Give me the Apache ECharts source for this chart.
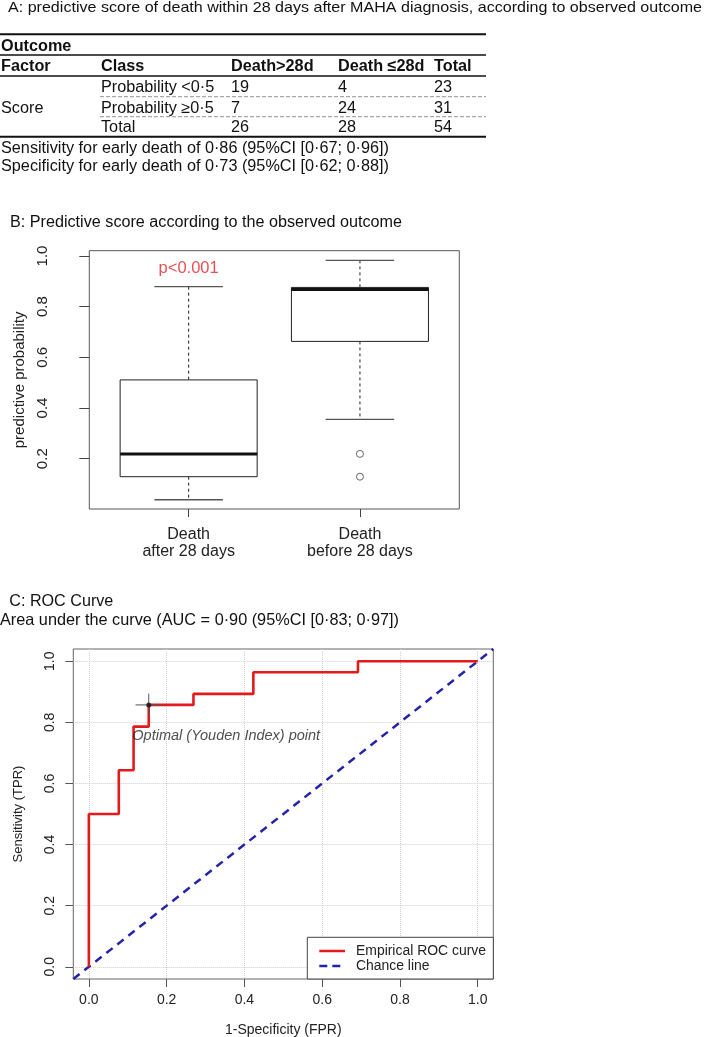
<!DOCTYPE html>
<html><head><meta charset="utf-8">
<script src="https://cdn.jsdelivr.net/npm/echarts@6/dist/echarts.min.js"></script>
<style>html,body{margin:0;padding:0;background:#fff}#c{width:709px;height:1037px}</style>
</head><body><div id="c"></div>
<script>
// ===== Data =====
const titleA = 'A: predictive score of death within 28 days after MAHA diagnosis, according to observed outcome';
const tableGroupLabel = 'Outcome';
const tableHeader = ['Factor', 'Class', 'Death>28d', 'Death \u226428d', 'Total'];
const tableFactor = 'Score';
const tableClasses = ['Probability <0\u00b75', 'Probability \u22650\u00b75', 'Total'];
const deathAfter28 = [19, 7, 26];
const deathWithin28 = [4, 24, 28];
const rowTotals = [23, 31, 54];
const sensitivityText = 'Sensitivity for early death of 0\u00b786 (95%CI [0\u00b767; 0\u00b796])';
const specificityText = 'Specificity for early death of 0\u00b773 (95%CI [0\u00b762; 0\u00b788])';

const titleB = 'B: Predictive score according to the observed outcome';
const boxGroups = ['Death\nafter 28 days', 'Death\nbefore 28 days'];
const boxLower  = [0.038, 0.355];
const boxQ1     = [0.129, 0.663];
const boxMedian = [0.219, 0.868];
const boxQ3     = [0.511, 0.876];
const boxUpper  = [0.879, 0.983];
const outliersGroup2 = [0.219, 0.129];
const boxTicks = [0.2, 0.4, 0.6, 0.8, 1.0];
const pValueText = 'p<0.001';

const titleC = 'C: ROC Curve';
const aucText = 'Area under the curve (AUC = 0\u00b790 (95%CI [0\u00b783; 0\u00b797])';
const rocFPR = [0, 0.077, 0.115, 0.154, 0.269, 0.423, 0.692, 1.0];
const rocTPR = [0.5, 0.643, 0.786, 0.857, 0.893, 0.964, 1.0];
const optimalPoint = [0.154, 0.857];
const optimalFprRange = [0.120, 0.188];
const optimalTprRange = [0.824, 0.894];
const chanceLine = [-0.04, 1.04];
const rocTicks = [0, 0.2, 0.4, 0.6, 0.8, 1.0];

// ===== Helpers =====
const FONT = '"Liberation Sans", Arial, sans-serif';
const mctx = document.createElement('canvas').getContext('2d');
function measure(t, size, weight, style) {
  mctx.font = (style || 'normal') + ' ' + (weight || 'normal') + ' ' + size + 'px ' + FONT;
  return mctx.measureText(t).width;
}
function txt(t, x, y, o) {
  o = o || {};
  const size = o.size || 16;
  const sx = o.w ? o.w / measure(t, size, o.weight, o.style) : (o.sx || 1);
  return { type: 'text', x: x, y: y, scaleX: sx, z: 20,
    style: { text: String(t), fontSize: size, fontFamily: FONT, fontWeight: o.weight || 'normal',
      fontStyle: o.style || 'normal', fill: o.color || '#111', align: o.align || 'left', verticalAlign: 'middle' } };
}
function hline(x1, x2, y, w, color, dash) {
  return { type: 'line', z: 20, shape: { x1: x1, y1: y, x2: x2, y2: y },
    style: { stroke: color || '#111', lineWidth: w || 1, lineDash: dash || null } };
}

// ===== Section A (table) =====
const tblSize = 16;
const tblScale = 388 / measure(sensitivityText, tblSize);
const colX = [1, 101, 231, 338, 434];
const rowY = [87.7, 108.3, 127.7];
const gA = [];
gA.push(txt(titleA, 8, 8, { size: 15, w: 694 }));
gA.push(hline(0, 486, 34.3, 2));
gA.push(txt(tableGroupLabel, 1, 46.7, { size: tblSize, weight: 'bold', sx: tblScale }));
gA.push(hline(0, 486, 55, 1.6));
tableHeader.forEach((h, i) => gA.push(txt(h, colX[i], 66.7, { size: tblSize, weight: 'bold', sx: tblScale })));
gA.push(hline(0, 486, 76, 1.6));
tableClasses.forEach((c, i) => {
  gA.push(txt(c, colX[1], rowY[i], { size: tblSize, sx: tblScale }));
  gA.push(txt(deathAfter28[i], colX[2], rowY[i], { size: tblSize, sx: tblScale }));
  gA.push(txt(deathWithin28[i], colX[3], rowY[i], { size: tblSize, sx: tblScale }));
  gA.push(txt(rowTotals[i], colX[4], rowY[i], { size: tblSize, sx: tblScale }));
});
gA.push(txt(tableFactor, 1, rowY[1], { size: tblSize, sx: tblScale }));
gA.push(hline(100, 486, 96.7, 1.3, '#a8a8a8', [4, 2]));
gA.push(hline(100, 486, 116.7, 1.3, '#a8a8a8', [4, 2]));
gA.push(hline(0, 486, 136.7, 2));
gA.push(txt(sensitivityText, 1, 148.3, { size: tblSize, sx: tblScale }));
gA.push(txt(specificityText, 1, 166.7, { size: tblSize, sx: tblScale }));

// ===== Section B / C titles =====
gA.push(txt(titleB, 10, 222.7, { size: 16, w: 392 }));
gA.push(txt(titleC, 9.3, 601.7, { size: 16, w: 104 }));
gA.push(txt(aucText, 0, 620, { size: 16.5, w: 399 }));

// ===== ROC legend =====
gA.push({ type: 'rect', z: 30, shape: { x: 307.3, y: 937.3, width: 186, height: 41.7 },
  style: { fill: '#fff', stroke: '#444', lineWidth: 1 } });
gA.push({ type: 'line', z: 31, shape: { x1: 319.3, y1: 951, x2: 345, y2: 951 }, style: { stroke: '#e3191c', lineWidth: 2.5 } });
gA.push({ type: 'line', z: 31, shape: { x1: 319.3, y1: 966, x2: 345, y2: 966 }, style: { stroke: '#2424a8', lineWidth: 2.5, lineDash: [8, 5] } });
const lg1 = txt('Empirical ROC curve', 356, 951.5, { size: 14, w: 130, color: '#222' }); lg1.z = 31;
const lg2 = txt('Chance line', 356, 966.5, { size: 14, sx: lg1.scaleX, color: '#222' }); lg2.z = 31;
gA.push(lg1, lg2);

// ===== Box plot data =====
const boxData = boxLower.map((v, i) => [i + 1, boxLower[i], boxQ1[i], boxMedian[i], boxQ3[i], boxUpper[i]]);
function renderBox(params, api) {
  const x = api.value(0);
  const lo = api.value(1), q1 = api.value(2), md = api.value(3), q3 = api.value(4), hi = api.value(5);
  const hw = 0.4, cw = 0.2;
  const P = (a, b) => api.coord([a, b]);
  const tl = P(x - hw, q3), br = P(x + hw, q1);
  const m1 = P(x - hw, md), m2 = P(x + hw, md);
  const wTop1 = P(x, hi), wTop2 = P(x, q3), wBot1 = P(x, q1), wBot2 = P(x, lo);
  const cT1 = P(x - cw, hi), cT2 = P(x + cw, hi), cB1 = P(x - cw, lo), cB2 = P(x + cw, lo);
  const dash = { stroke: '#222', lineWidth: 1, lineDash: [3, 3] };
  const cap = { stroke: '#555', lineWidth: 1.3 };
  return { type: 'group', children: [
    { type: 'line', shape: { x1: wTop1[0], y1: wTop1[1], x2: wTop2[0], y2: wTop2[1] }, style: dash },
    { type: 'line', shape: { x1: wBot1[0], y1: wBot1[1], x2: wBot2[0], y2: wBot2[1] }, style: dash },
    { type: 'line', shape: { x1: cT1[0], y1: cT1[1], x2: cT2[0], y2: cT2[1] }, style: cap },
    { type: 'line', shape: { x1: cB1[0], y1: cB1[1], x2: cB2[0], y2: cB2[1] }, style: cap },
    { type: 'rect', shape: { x: tl[0], y: tl[1], width: br[0] - tl[0], height: br[1] - tl[1] },
      style: { fill: '#fff', stroke: '#222', lineWidth: 1 } },
    { type: 'line', shape: { x1: m1[0], y1: m1[1], x2: m2[0], y2: m2[1] }, style: { stroke: '#111', lineWidth: 3 } }
  ] };
}

// ===== ROC path =====
const rocPts = [[rocFPR[0], 0]];
rocTPR.forEach((t, i) => { rocPts.push([rocFPR[i], t]); rocPts.push([rocFPR[i + 1], t]); });

const chart = echarts.init(document.getElementById('c'), null, { renderer: 'canvas' });
const axisFontColor = '#222';
chart.setOption({
  animation: false,
  backgroundColor: '#fff',
  textStyle: { fontFamily: FONT },
  grid: [
    { left: 89.3, top: 250.7, width: 370, height: 258.3, show: true, borderColor: '#555', borderWidth: 1, backgroundColor: 'transparent', outerBoundsMode: 'none', containLabel: false },
    { left: 73.3, top: 649, width: 420, height: 330, show: true, borderColor: '#666', borderWidth: 1, backgroundColor: 'transparent', outerBoundsMode: 'none', containLabel: false }
  ],
  xAxis: [
    { gridIndex: 0, type: 'value', min: 0.42, max: 2.58,
      axisLine: { show: false, onZero: false }, splitLine: { show: false },
      axisTick: { show: true, customValues: [1, 2], length: 8, lineStyle: { color: '#444' } },
      axisLabel: { customValues: [1, 2], formatter: v => boxGroups[Math.round(v) - 1], fontSize: 16, lineHeight: 17, color: axisFontColor, margin: 17, align: 'center' } },
    { gridIndex: 1, type: 'value', min: -0.04, max: 1.04,
      axisLine: { show: false, onZero: false },
      axisTick: { show: true, customValues: rocTicks, length: 8, lineStyle: { color: '#555' } },
      axisLabel: { customValues: rocTicks, formatter: v => v.toFixed(1), fontSize: 14, color: axisFontColor, margin: 14 },
      splitLine: { show: true, lineStyle: { color: '#cfcfcf', type: 'dotted', width: 1 } },
      name: '1-Specificity (FPR)', nameLocation: 'middle', nameGap: 44, nameTextStyle: { fontSize: 14, color: axisFontColor } }
  ],
  yAxis: [
    { gridIndex: 0, type: 'value', min: 0.0015, max: 1.021,
      axisLine: { show: false, onZero: false }, splitLine: { show: false },
      axisTick: { show: true, customValues: boxTicks, length: 10, lineStyle: { color: '#444' } },
      axisLabel: { customValues: boxTicks, formatter: v => v.toFixed(1), rotate: 90, fontSize: 15, color: axisFontColor, margin: 39 },
      name: 'predictive probability', nameLocation: 'middle', nameGap: 59, nameRotate: 90, nameTextStyle: { fontSize: 15, color: axisFontColor } },
    { gridIndex: 1, type: 'value', min: -0.04, max: 1.04,
      axisLine: { show: false, onZero: false },
      axisTick: { show: true, customValues: rocTicks, length: 8, lineStyle: { color: '#555' } },
      axisLabel: { customValues: rocTicks, formatter: v => v.toFixed(1), rotate: 90, fontSize: 14, color: axisFontColor, margin: 16 },
      splitLine: { show: true, lineStyle: { color: '#cfcfcf', type: 'dotted', width: 1 } },
      name: 'Sensitivity (TPR)', nameLocation: 'middle', nameGap: 48, nameRotate: 90, nameTextStyle: { fontSize: 13, color: axisFontColor } }
  ],
  series: [
    { type: 'custom', xAxisIndex: 0, yAxisIndex: 0, data: boxData, renderItem: renderBox,
      encode: { x: 0, y: [1, 2, 3, 4, 5] }, z: 5 },
    { type: 'scatter', xAxisIndex: 0, yAxisIndex: 0, data: outliersGroup2.map(v => [2, v]),
      symbol: 'circle', symbolSize: 7, itemStyle: { color: '#fff', borderColor: '#444', borderWidth: 1 }, z: 6 },
    { type: 'scatter', xAxisIndex: 0, yAxisIndex: 0, data: [[1, 0.949]], symbolSize: 0, silent: true,
      label: { show: true, position: 'inside', formatter: pValueText, color: '#e0242a', fontSize: 16.5 }, z: 6 },
    { type: 'line', xAxisIndex: 1, yAxisIndex: 1, data: chanceLine.map(v => [v, v]), symbol: 'none',
      lineStyle: { color: '#2424a8', width: 2.5, type: [8, 6] }, z: 3 },
    { type: 'line', xAxisIndex: 1, yAxisIndex: 1, data: rocPts, symbol: 'none',
      lineStyle: { color: '#e3191c', width: 2.6 }, z: 4 },
    { type: 'line', xAxisIndex: 1, yAxisIndex: 1, data: optimalFprRange.map(v => [v, optimalPoint[1]]), symbol: 'none',
      lineStyle: { color: '#555', width: 1 }, z: 5 },
    { type: 'line', xAxisIndex: 1, yAxisIndex: 1, data: optimalTprRange.map(v => [optimalPoint[0], v]), symbol: 'none',
      lineStyle: { color: '#555', width: 1 }, z: 5 },
    { type: 'scatter', xAxisIndex: 1, yAxisIndex: 1, data: [optimalPoint], symbolSize: 5,
      itemStyle: { color: '#111' }, z: 6,
      label: { show: true, position: 'inside', offset: [77.5, 31], formatter: 'Optimal (Youden Index) point',
        fontSize: 14.5, fontStyle: 'italic', color: '#222' } }
  ],
  graphic: { elements: gA }
});
</script></body></html>
